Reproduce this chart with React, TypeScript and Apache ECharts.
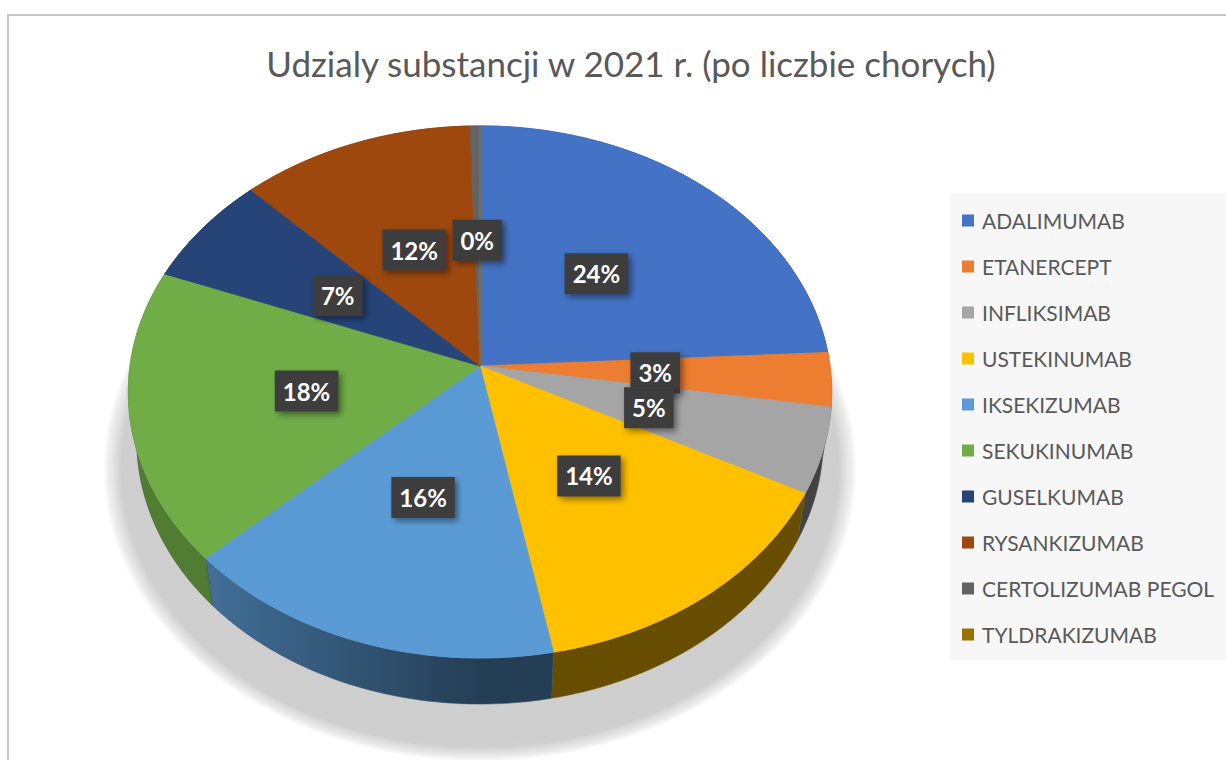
import React, { useEffect, useRef } from 'react';
import * as echarts from 'echarts';

const titleText = 'Udzialy substancji w 2021 r. (po liczbie chorych)';
const categories = [
  'ADALIMUMAB',
  'ETANERCEPT',
  'INFLIKSIMAB',
  'USTEKINUMAB',
  'IKSEKIZUMAB',
  'SEKUKINUMAB',
  'GUSELKUMAB',
  'RYSANKIZUMAB',
  'CERTOLIZUMAB PEGOL',
  'TYLDRAKIZUMAB',
];
const shares = [24.3, 3.3, 5.2, 14.4, 16.2, 17.9, 6.8, 11.9, 0.49, 0.02];
const colors = ['#4472c4', '#ed7d31', '#a5a5a5', '#ffc000', '#5b9bd5', '#70ad47', '#264478', '#9e480e', '#636363', '#997300'];

// 3D projection layout constants
const CX = 480;
const CY = 366;
const FOCAL = 2357;
const RAD = 0.1485;
const SIN_E = 0.753;
const COS_E = Math.sqrt(1 - SIN_E * SIN_E);
const THICK = 0.032;

function project(theta: number, r: number, z: number): number[] {
  const X = RAD * r * Math.sin(theta);
  const Y = RAD * r * Math.cos(theta);
  const depth = 1 + Y * COS_E - z * SIN_E;
  const up = Y * SIN_E + z * COS_E;
  return [CX + (FOCAL * X) / depth, CY - (FOCAL * up) / depth];
}

function shade(hex: string, f: number): string {
  const n = parseInt(hex.slice(1), 16);
  const r = Math.round(((n >> 16) & 255) * f);
  const g = Math.round(((n >> 8) & 255) * f);
  const b = Math.round((n & 255) * f);
  return `rgb(${r},${g},${b})`;
}

export default function App() {
  const ref = useRef<HTMLDivElement>(null);

  useEffect(() => {
    if (!ref.current) return;
    const chart = echarts.init(ref.current, null, { renderer: 'svg' });
    const total = shares.reduce((a, b) => a + b, 0);
    const cum: number[] = [0];
    shares.forEach((v, i) => cum.push(cum[i] + v));

    const renderItem = (params: any, api: any) => {
      const i = params.dataIndex;
      const value = api.value(0);
      const a0 = (cum[i] / total) * Math.PI * 2;
      const a1 = a0 + (value / total) * Math.PI * 2;
      const n = Math.max(2, Math.ceil((a1 - a0) / (Math.PI / 180)));
      const top: number[][] = [];
      const bot: number[][] = [];
      for (let k = 0; k <= n; k++) {
        const t = a0 + ((a1 - a0) * k) / n;
        top.push(project(t, 1, 0));
        bot.push(project(t, 1, -THICK));
      }
      const color = colors[i];
      const children: any[] = [];
      if (i === 0) {
        const outline: number[][] = [];
        for (let k = 0; k <= 360; k += 2) {
          outline.push(project((k * Math.PI) / 180, 1.11, -THICK * 1.5));
        }
        children.push({
          type: 'polygon',
          shape: { points: outline },
          style: {
            fill: new echarts.graphic.RadialGradient(0.5, 0.5, 0.5, [
              { offset: 0, color: 'rgba(0,0,0,0.2)' },
              { offset: 0.95, color: 'rgba(0,0,0,0.19)' },
              { offset: 0.985, color: 'rgba(0,0,0,0.07)' },
              { offset: 1, color: 'rgba(0,0,0,0)' },
            ]),
          },
          z2: 1,
        });
      }
      children.push({
        type: 'polygon',
        shape: { points: top.concat(bot.slice().reverse()) },
        style: {
          fill: new echarts.graphic.LinearGradient(
            480, 0, 200, 0,
            [
              { offset: 0, color: shade(color, 0.4) },
              { offset: 1, color: shade(color, 0.72) },
            ],
            true
          ),
          stroke: shade(color, 0.5),
          lineWidth: 0.5,
        },
        z2: 10,
      });
      children.push({
        type: 'polygon',
        shape: { points: [[CX, CY]].concat(top) },
        style: { fill: color, stroke: color, lineWidth: 0.8, lineJoin: 'round' },
        z2: 20,
      });
      const mid = (a0 + a1) / 2;
      const p = project(mid, 0.5, 0);
      const pct = Math.round((value / total) * 100);
      if (i < 9) {
        children.push({
          type: 'text',
          x: p[0],
          y: p[1],
          style: {
            text: pct + '%',
            fill: '#ffffff',
            font: 'bold 24px Lato',
            align: 'center',
            verticalAlign: 'middle',
            backgroundColor: '#3d3d3d',
            padding: [9, 8, 8, 8],
            shadowBlur: 6,
            shadowColor: 'rgba(0,0,0,0.45)',
            shadowOffsetX: 3,
            shadowOffsetY: 3,
          },
          z2: 30,
        });
      }
      return { type: 'group', children };
    };

    chart.setOption({
      animation: false,
      backgroundColor: '#ffffff',
      title: {
        text: titleText,
        left: 626,
        top: 40,
        textAlign: 'center',
        textStyle: { fontFamily: 'Lato', fontSize: 35, fontWeight: 'normal', color: '#595959' },
      },
      legend: {
        orient: 'vertical',
        left: 950,
        top: 193,
        padding: [17, 14, 15, 12],
        itemGap: 25,
        itemWidth: 12,
        itemHeight: 12,
        icon: 'rect',
        backgroundColor: '#f7f7f7',
        data: categories,
        textStyle: { fontFamily: 'Lato', fontSize: 21, color: '#595959', padding: [0, 0, 0, 3] },
      },
      graphic: [
        {
          type: 'rect',
          shape: { x: 8, y: 15, width: 1240, height: 780 },
          style: { fill: 'none', stroke: '#c6c6c6', lineWidth: 2 },
          silent: true,
        },
      ],
      series: [
        {
          type: 'pie',
          name: 'legend',
          center: [-2000, -2000],
          radius: 10,
          silent: true,
          label: { show: false },
          labelLine: { show: false },
          data: categories.map((c, i) => ({ name: c, value: shares[i], itemStyle: { color: colors[i] } })),
        },
        {
          type: 'custom',
          name: 'pie3d',
          coordinateSystem: 'none',
          renderItem,
          data: categories.map((c, i) => ({ name: c, value: shares[i] })),
        },
      ],
    });
    return () => chart.dispose();
  }, []);

  return (
    <div
      ref={ref}
      style={{ position: 'absolute', left: 0, top: 0, width: 1226, height: 760 }}
    />
  );
}
